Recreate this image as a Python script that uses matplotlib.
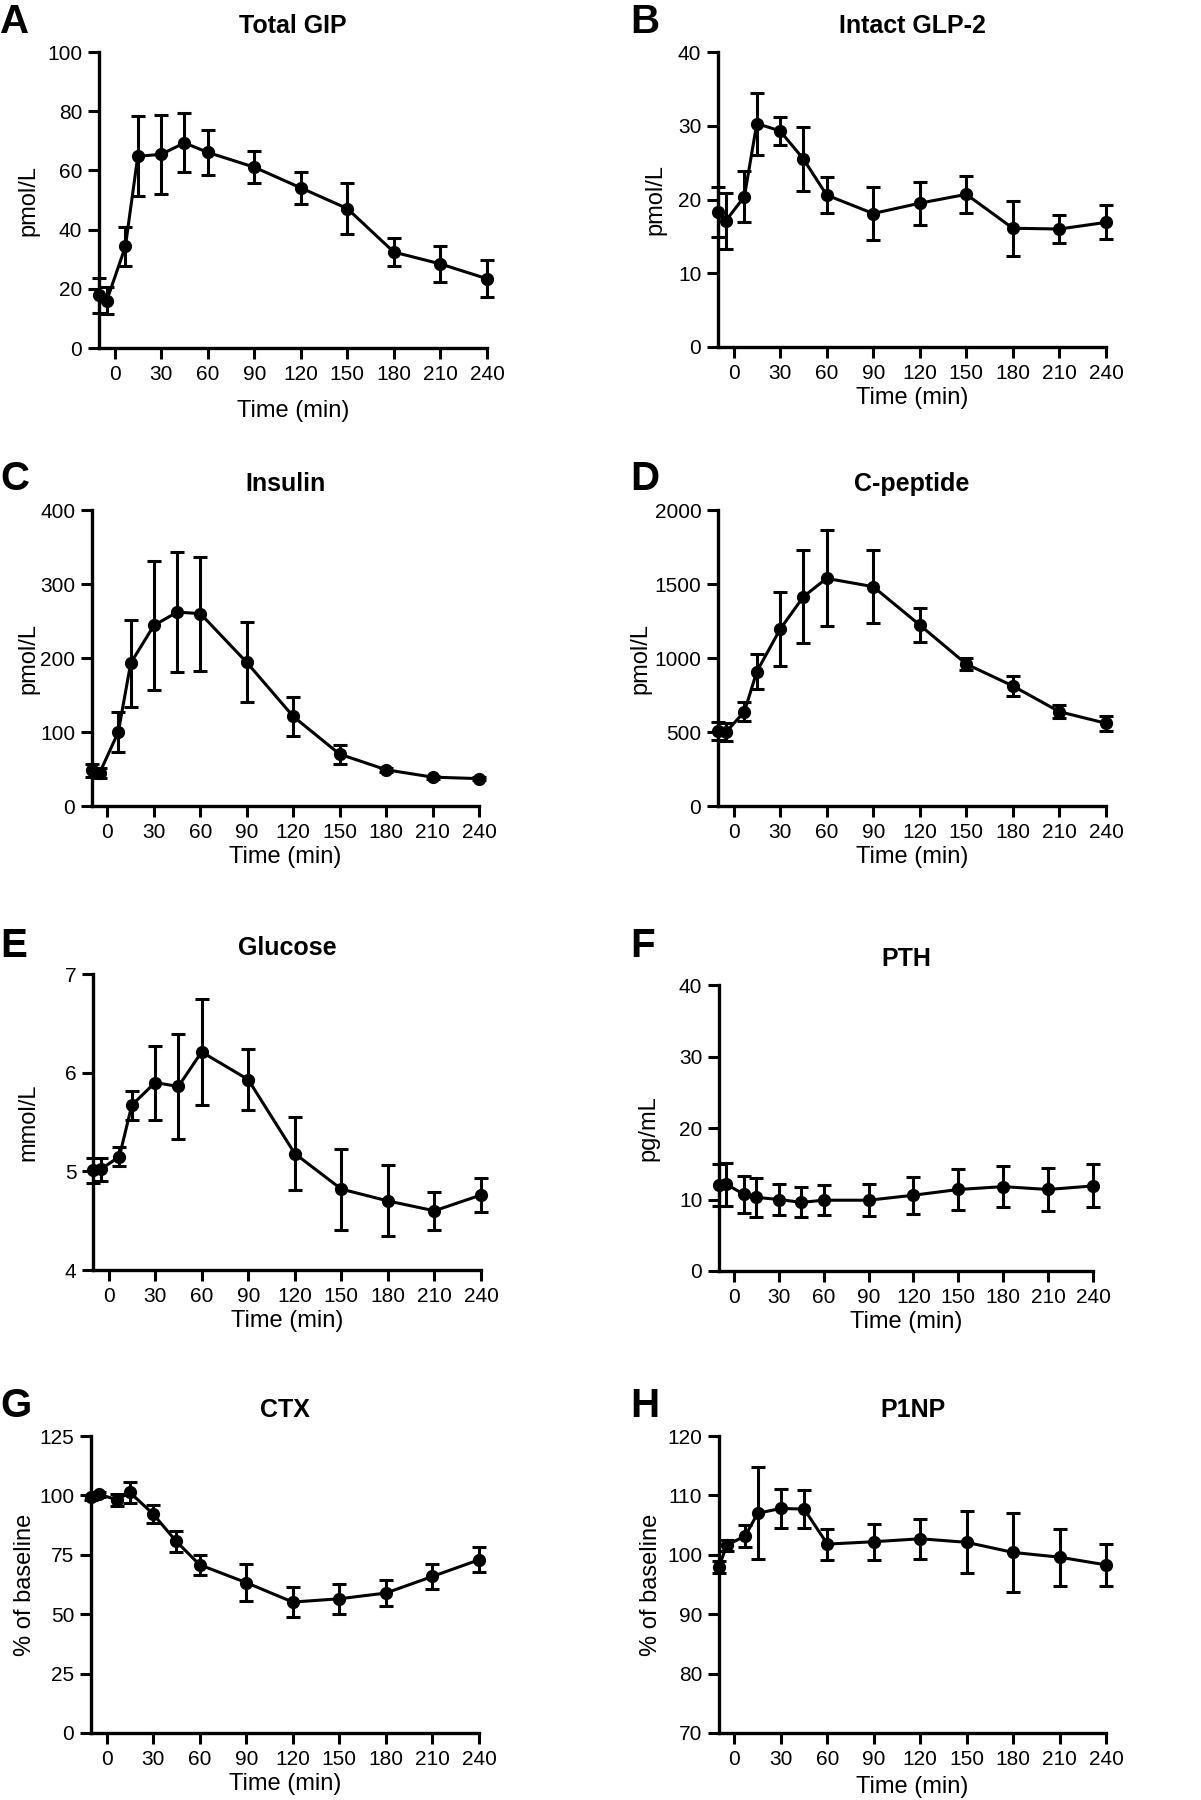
import matplotlib
matplotlib.use("Agg")
import matplotlib.pyplot as plt

plt.rcParams["font.family"] = ["Liberation Sans", "DejaVu Sans"]

# ---- data (mean +/- SEM) ----
time = [-10, -5, 7, 15, 30, 45, 60, 90, 120, 150, 180, 210, 240]

gip_mean = [17.8, 16.0, 34.3, 64.8, 65.4, 69.3, 66.1, 61.1, 54.1, 47.1, 32.4, 28.4, 23.4]
gip_sem = [6.0, 4.5, 6.5, 13.6, 13.3, 10.0, 7.6, 5.4, 5.5, 8.5, 4.8, 6.0, 6.3]

glp2_mean = [18.3, 17.1, 20.4, 30.3, 29.3, 25.5, 20.6, 18.1, 19.5, 20.7, 16.1, 16.0, 16.9]
glp2_sem = [3.4, 3.8, 3.5, 4.2, 1.9, 4.3, 2.4, 3.6, 2.9, 2.5, 3.7, 1.9, 2.3]

ins_mean = [48, 45, 100, 193, 244, 262, 260, 194, 121, 70, 49, 39, 37]
ins_sem = [9, 7, 27, 59, 87, 81, 77, 54, 26, 13, 3, 2, 2]

cpep_mean = [507, 498, 637, 908, 1194, 1414, 1538, 1482, 1223, 959, 811, 637, 559]
cpep_sem = [60, 60, 65, 118, 250, 315, 325, 245, 113, 43, 67, 45, 50]

glu_mean = [5.01, 5.02, 5.15, 5.67, 5.90, 5.86, 6.21, 5.93, 5.18, 4.82, 4.70, 4.60, 4.76]
glu_sem = [0.13, 0.12, 0.095, 0.145, 0.375, 0.53, 0.54, 0.31, 0.37, 0.41, 0.36, 0.19, 0.17]

pth_mean = [12.0, 12.1, 10.7, 10.3, 10.0, 9.6, 9.9, 9.9, 10.6, 11.4, 11.8, 11.4, 11.9]
pth_sem = [2.9, 3.0, 2.6, 2.7, 2.2, 2.1, 2.1, 2.2, 2.6, 2.9, 2.9, 3.0, 3.0]

ctx_mean = [99.2, 100.5, 98.1, 101.3, 92.2, 80.6, 70.8, 63.3, 55.1, 56.5, 58.9, 65.9, 72.9]
ctx_sem = [1.0, 1.0, 2.4, 4.5, 3.7, 4.3, 4.3, 7.8, 6.3, 6.3, 5.5, 5.4, 5.3]

p1np_mean = [98.0, 101.6, 103.2, 107.0, 107.8, 107.7, 101.8, 102.2, 102.7, 102.1, 100.4, 99.6, 98.3]
p1np_sem = [1.0, 0.9, 1.9, 7.7, 3.3, 3.2, 2.6, 3.0, 3.4, 5.2, 6.7, 4.8, 3.6]

x_ticks = [0, 30, 60, 90, 120, 150, 180, 210, 240]

W, H = 1201, 1800

# letter, title, ylabel, mean, sem, ylim, yticks, axes box (l, r, t, b) px,
# ylabel right-edge x px, letter position px, xlabel pad
panels = [
    ("A", "Total GIP", "pmol/L", gip_mean, gip_sem, (0, 100), [0, 20, 40, 60, 80, 100],
     (99, 487, 52, 348), 39, (0, 33), 12),
    ("B", "Intact GLP-2", "pmol/L", glp2_mean, glp2_sem, (0, 40), [0, 10, 20, 30, 40],
     (718, 1106, 52, 347), 666, (630, 33), 3),
    ("C", "Insulin", "pmol/L", ins_mean, ins_sem, (0, 400), [0, 100, 200, 300, 400],
     (92, 479, 510, 806), 39, (0, 490), 3),
    ("D", "C-peptide", "pmol/L", cpep_mean, cpep_sem, (0, 2000), [0, 500, 1000, 1500, 2000],
     (718, 1106, 510, 806), 651, (630, 490), 3),
    ("E", "Glucose", "mmol/L", glu_mean, glu_sem, (4, 7), [4, 5, 6, 7],
     (93, 481, 974, 1270), 39, (0, 957), 3),
    ("F", "PTH", "pg/mL", pth_mean, pth_sem, (0, 40), [0, 10, 20, 30, 40],
     (719, 1093, 985, 1271), 659, (630, 957), 3),
    ("G", "CTX", "% of baseline", ctx_mean, ctx_sem, (0, 125), [0, 25, 50, 75, 100, 125],
     (91, 479, 1436, 1733), 36, (0, 1417), 3),
    ("H", "P1NP", "% of baseline", p1np_mean, p1np_sem, (70, 120), [70, 80, 90, 100, 110, 120],
     (719, 1106, 1436, 1733), 662, (630, 1417), 5),
]

fig = plt.figure(figsize=(W / 100, H / 100), dpi=100)
fig.patch.set_facecolor("white")

for letter, title, ylab, mean, sem, ylim, yticks, box, ylab_x, lpos, xpad in panels:
    l, r, t, b = box
    ax = fig.add_axes([l / W, 1 - b / H, (r - l) / W, (b - t) / H])
    ax.errorbar(time, mean, yerr=sem, color="black", marker="o", markersize=8.5,
                linewidth=2.2, elinewidth=2.2, capsize=5, capthick=2.2, clip_on=False, zorder=3)
    ax.set_xlim(-10, 240)
    ax.set_ylim(*ylim)
    ax.set_xticks(x_ticks)
    ax.set_yticks(yticks)
    for side in ("top", "right"):
        ax.spines[side].set_visible(False)
    for side in ("left", "bottom"):
        ax.spines[side].set_linewidth(2.4)
    ax.tick_params(axis="both", direction="out", length=8, width=2.2, labelsize=15, pad=4)
    ax.set_title(title, fontsize=18, fontweight="bold", pad=14)
    ax.set_xlabel("Time (min)", fontsize=17, labelpad=xpad)
    ax.set_ylabel(ylab, fontsize=17)
    ax.yaxis.set_label_coords(ylab_x / W, 1 - ((t + b) / 2) / H, transform=fig.transFigure)
    fig.text(lpos[0] / W, 1 - lpos[1] / H, letter, fontsize=29, fontweight="bold",
             ha="left", va="baseline")

fig.savefig("out.png", dpi=100)
